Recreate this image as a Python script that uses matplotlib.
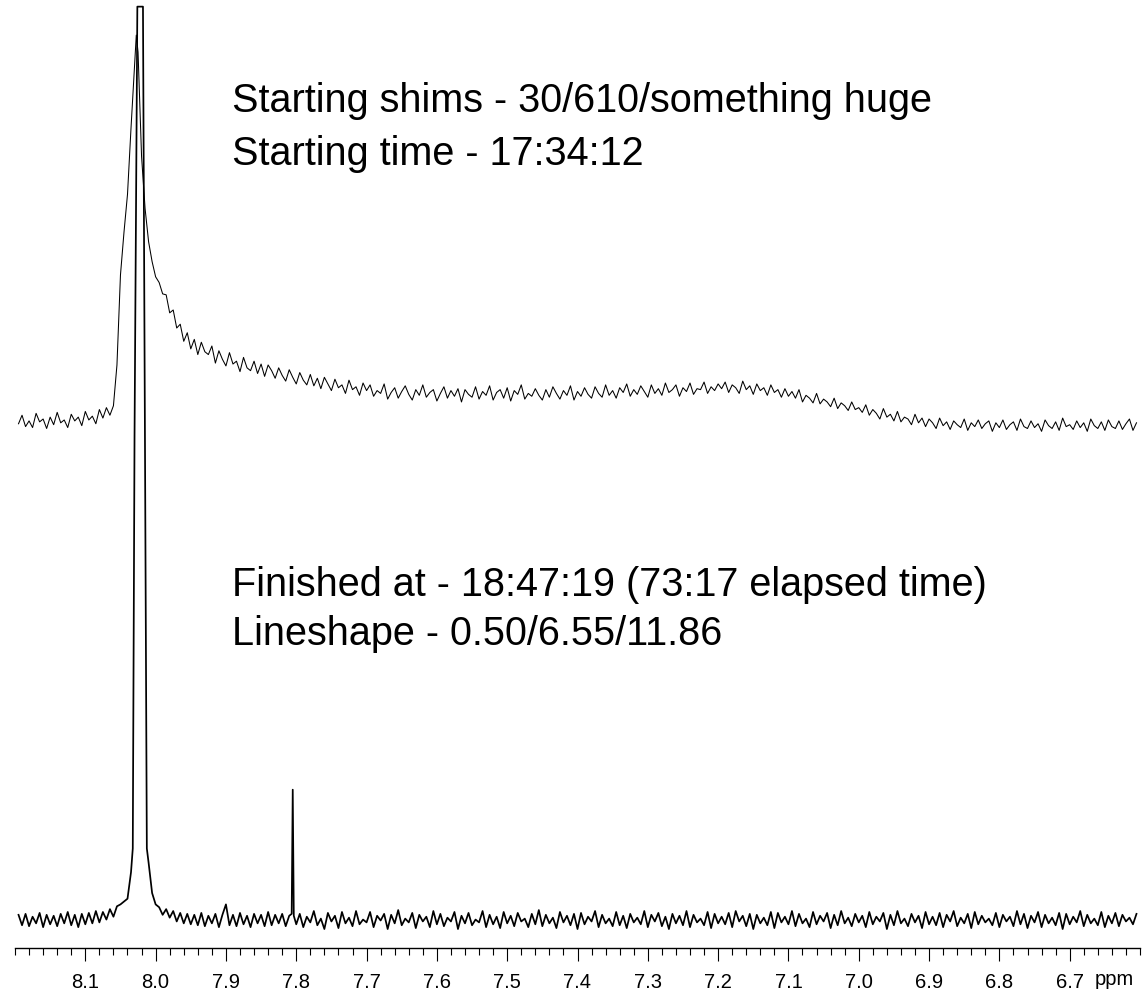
import numpy as np
import matplotlib
matplotlib.use("Agg")
import matplotlib.pyplot as plt
from matplotlib.ticker import FixedLocator, MultipleLocator

FONT = ['Liberation Sans', 'DejaVu Sans']
plt.rcParams['font.family'] = FONT

# ---------------- data ----------------
ppm_start, ppm_end, n_points = 8.195, 6.605, 319

# upper spectrum (starting shims), arbitrary intensity units
start_spectrum = [
    55.3, 56.2, 55.0, 55.6, 54.9, 56.4, 55.5, 55.8, 54.8, 56.0,
    55.2, 56.5, 55.4, 55.7, 54.9, 56.3, 55.6, 56.0, 55.1, 56.6,
    55.7, 56.1, 55.3, 56.8, 55.9, 57.0, 56.2,
    57.2, 61.5, 71.0, 75.5, 79.5, 86.5, 93.0, 94.5, 83.5, 78.0, 74.5, 72.4, 70.8,
    70.2, 69.0, 68.9, 67.0, 67.3, 65.4, 65.8, 64.0, 64.9, 63.2,
    64.2, 62.6, 63.9, 62.9, 62.6, 63.5, 61.7, 63.0, 62.1, 61.4,
    62.8, 61.6, 61.9, 60.8, 62.3, 61.2, 60.9, 61.9, 60.6, 61.6,
    60.3, 61.5, 60.9, 60.1, 61.2, 60.4, 59.8, 61.0, 60.2, 59.5,
    60.7, 59.9, 59.4, 60.5, 59.3, 60.1, 59.0, 60.2, 59.5, 58.8,
    60.0, 59.1, 59.4, 58.5, 59.9, 58.9, 59.2, 58.3, 59.6, 58.8,
    59.4, 58.2, 58.8, 58.5, 59.5, 57.9, 58.6, 59.1, 58.0, 58.7,
    59.3, 58.4, 57.8, 58.9, 58.3, 59.4, 58.1, 58.6, 58.9, 57.7,
    58.5, 59.2, 58.0, 58.8, 58.2, 59.0, 57.6, 58.9, 58.4, 58.1,
    59.2, 57.9, 58.7, 58.3, 59.3, 57.8, 58.6, 58.9, 58.0, 59.1,
    57.7, 58.8, 58.4, 59.4, 57.9, 58.5, 58.2, 59.0, 58.3, 57.8,
    58.9, 58.1, 59.2, 58.5, 57.9, 58.8, 58.3, 59.3, 57.8, 58.7,
    58.2, 59.1, 58.4, 58.0, 59.2, 58.5, 58.1, 59.4, 58.3, 58.8,
    58.0, 59.1, 58.6, 59.5, 58.2, 58.9, 58.4, 59.3, 58.7, 58.1,
    59.4, 58.5, 59.0, 58.3, 59.6, 58.6, 58.9, 59.4, 58.2, 59.1,
    58.7, 59.6, 58.4, 59.0, 58.9, 59.7, 58.5, 59.2, 58.8, 59.5,
    59.0, 59.7, 58.6, 59.4, 59.1, 58.5, 59.8, 58.9, 59.3, 58.4,
    59.5, 58.8, 59.1, 58.3, 59.4, 58.6, 58.9, 58.1, 59.0, 58.2,
    58.7, 58.0, 58.9, 57.6, 58.3, 58.0, 57.5, 58.5, 57.4, 57.9,
    57.6, 57.1, 58.0, 56.9, 57.5, 57.2, 56.7, 57.6, 56.8, 57.0,
    56.5, 57.3, 56.2, 56.8, 56.4, 55.8, 56.9, 56.0, 56.3, 55.6,
    56.6, 55.5, 56.0, 55.8, 55.2, 56.3, 55.4, 55.9, 55.0, 55.8,
    55.4, 54.8, 55.9, 55.1, 55.5, 54.7, 55.6, 55.2, 54.9, 55.8,
    54.6, 55.4, 55.0, 55.7, 54.8, 55.3, 55.6, 54.5, 55.4, 54.9,
    55.7, 54.7, 55.2, 55.5, 54.6, 55.8, 55.0, 54.8, 55.6, 54.9,
    55.3, 54.5, 55.7, 55.1, 54.8, 55.5, 54.6, 55.9, 55.0, 55.2,
    54.7, 55.6, 54.9, 55.4, 54.5, 55.8, 55.1, 54.8, 55.5, 54.6,
    55.7, 55.0, 54.8, 55.6, 54.7, 55.3, 55.8, 54.6, 55.4,
]
start_extra_ppm = [8.0275]
start_extra_val = [96.3]

# lower spectrum (finished shims)
final_spectrum = [
    3.5, 2.4, 3.6, 2.3, 3.3, 2.6, 3.7, 2.2, 3.5, 2.5,
    3.4, 2.3, 3.6, 2.6, 3.8, 2.4, 3.5, 2.2, 3.6, 2.5,
    3.7, 2.6, 3.9, 2.7, 3.8, 3.0, 4.1, 3.3, 4.4, 4.6,
    4.9, 5.2, 8.0, 54.0, 99.3, 99.3, 51.0, 9.0, 5.8, 4.6,
    4.3, 3.5, 4.1, 3.2, 3.9, 2.8, 3.7, 2.6, 3.6, 2.5,
    3.5, 2.4, 3.7, 2.3, 3.4, 2.6, 3.6, 2.2, 3.5, 4.6,
    2.4, 3.5, 2.3, 3.7, 2.5, 3.4, 2.2, 3.6, 2.6, 3.5,
    2.3, 3.8, 2.4, 3.5, 2.6, 3.6, 2.3, 3.4, 16.7, 2.5,
    3.6, 2.2, 3.3, 2.7, 3.9, 2.4, 3.1, 2.0, 3.7, 2.8,
    3.4, 2.1, 3.8, 2.6, 3.2, 2.3, 3.9, 2.5, 3.0, 2.7,
    3.8, 2.2, 3.4, 2.9, 3.6, 2.0, 3.5, 2.6, 4.0, 2.4,
    3.1, 2.7, 3.7, 2.1, 3.5, 2.8, 3.3, 2.2, 3.9, 2.5,
    3.6, 2.3, 3.2, 2.8, 3.8, 2.0, 3.4, 2.6, 3.7, 2.4,
    3.0, 2.7, 3.9, 2.2, 3.5, 2.5, 3.3, 2.1, 3.8, 2.6,
    3.4, 2.3, 3.7, 2.8, 3.1, 2.2, 3.6, 2.5, 4.0, 2.3,
    3.5, 2.6, 3.2, 2.1, 3.8, 2.7, 3.4, 2.4, 3.6, 2.0,
    3.7, 2.5, 3.3, 2.8, 3.9, 2.2, 3.5, 2.6, 3.1, 2.3,
    3.8, 2.4, 3.4, 2.1, 3.6, 2.7, 3.2, 2.5, 3.9, 2.2,
    3.5, 2.8, 3.7, 2.3, 3.3, 2.0, 3.6, 2.6, 3.4, 2.4,
    3.9, 2.2, 3.5, 2.7, 3.1, 2.4, 3.8, 2.1, 3.6, 2.6,
    3.3, 2.5, 3.7, 2.2, 3.9, 2.8, 3.4, 2.3, 3.6, 2.0,
    3.5, 2.6, 3.2, 2.4, 3.8, 2.1, 3.7, 2.7, 3.3, 2.5,
    3.9, 2.3, 3.6, 2.6, 3.1, 2.2, 3.8, 2.5, 3.4, 2.8,
    3.7, 2.1, 3.5, 2.4, 3.9, 2.6, 3.2, 2.3, 3.6, 2.7,
    3.4, 2.2, 3.8, 2.5, 3.3, 2.8, 3.7, 2.0, 3.5, 2.4,
    3.9, 2.6, 3.1, 2.3, 3.6, 2.7, 3.4, 2.1, 3.8, 2.5,
    3.3, 2.4, 3.7, 2.2, 3.5, 2.8, 3.9, 2.3, 3.2, 2.6,
    3.6, 2.1, 3.8, 2.5, 3.4, 2.7, 3.1, 2.4, 3.7, 2.2,
    3.5, 2.8, 3.3, 2.3, 3.9, 2.5, 3.6, 2.1, 3.4, 2.7,
    3.8, 2.2, 3.5, 2.6, 3.2, 2.4, 3.7, 2.0, 3.6, 2.5,
    3.3, 2.7, 3.9, 2.3, 3.5, 2.6, 3.1, 2.4, 3.8, 2.2,
    3.4, 2.6, 3.7, 2.3, 3.5, 2.8, 3.2, 2.5, 3.6,
]
final_extra_ppm = [8.0325, 8.026, 8.018, 8.0125, 7.8065, 7.8035]
final_extra_val = [10.5, 99.3, 99.3, 10.5, 3.6, 3.4]

tick_values = [8.1, 8.0, 7.9, 7.8, 7.7, 7.6, 7.5, 7.4, 7.3, 7.2, 7.1, 7.0, 6.9, 6.8, 6.7]
tick_labels = ['8.1', '8.0', '7.9', '7.8', '7.7', '7.6', '7.5', '7.4', '7.3', '7.2',
               '7.1', '7.0', '6.9', '6.8', '6.7']

text_start = ["Starting shims - 30/610/something huge", "Starting time - 17:34:12"]
text_final = ["Finished at - 18:47:19 (73:17 elapsed time)", "Lineshape - 0.50/6.55/11.86"]

# ---------------- build ----------------
grid = np.linspace(ppm_start, ppm_end, n_points)


def merged(vals, extra_ppm, extra_val):
    x = np.concatenate([grid, np.array(extra_ppm)])
    y = np.concatenate([np.array(vals), np.array(extra_val)])
    order = np.argsort(-x)
    return x[order], y[order]


xs, ys = merged(start_spectrum, start_extra_ppm, start_extra_val)
xf, yf = merged(final_spectrum, final_extra_ppm, final_extra_val)

W, H = 1143, 993
fig = plt.figure(figsize=(W / 100, H / 100), dpi=100)
ax = fig.add_axes([15 / W, 45 / H, 1125 / W, 948 / H])

ax.plot(xs, ys, color='black', lw=0.75)
ax.plot(xf, yf, color='black', lw=1.25)

ax.set_xlim(8.2, 6.6)
ax.set_ylim(0, 100)

for s in ['top', 'left', 'right']:
    ax.spines[s].set_visible(False)
ax.spines['bottom'].set_linewidth(1.0)
ax.set_yticks([])

ax.xaxis.set_major_locator(FixedLocator(tick_values))
ax.set_xticklabels(tick_labels)
ax.xaxis.set_minor_locator(MultipleLocator(0.02))
ax.tick_params(axis='x', which='major', direction='out', length=9, width=0.8,
               labelsize=14.5, pad=9)
ax.tick_params(axis='x', which='minor', direction='out', length=5, width=0.8)

ax.annotate('ppm', xy=(6.636, 0), xycoords=('data', 'axes fraction'),
            xytext=(0, -15.5), textcoords='offset points',
            ha='center', va='top', fontsize=14.5)

# annotation texts (figure pixel positions, baselines)
def ftext(px, py_base, s):
    fig.text(px / W, 1 - py_base / H, s, fontsize=28.5, ha='left', va='baseline')

ftext(232, 112, text_start[0])
ftext(232, 165, text_start[1])
ftext(232, 596, text_final[0])
ftext(232, 645, text_final[1])

fig.savefig('out.png', dpi=100)
